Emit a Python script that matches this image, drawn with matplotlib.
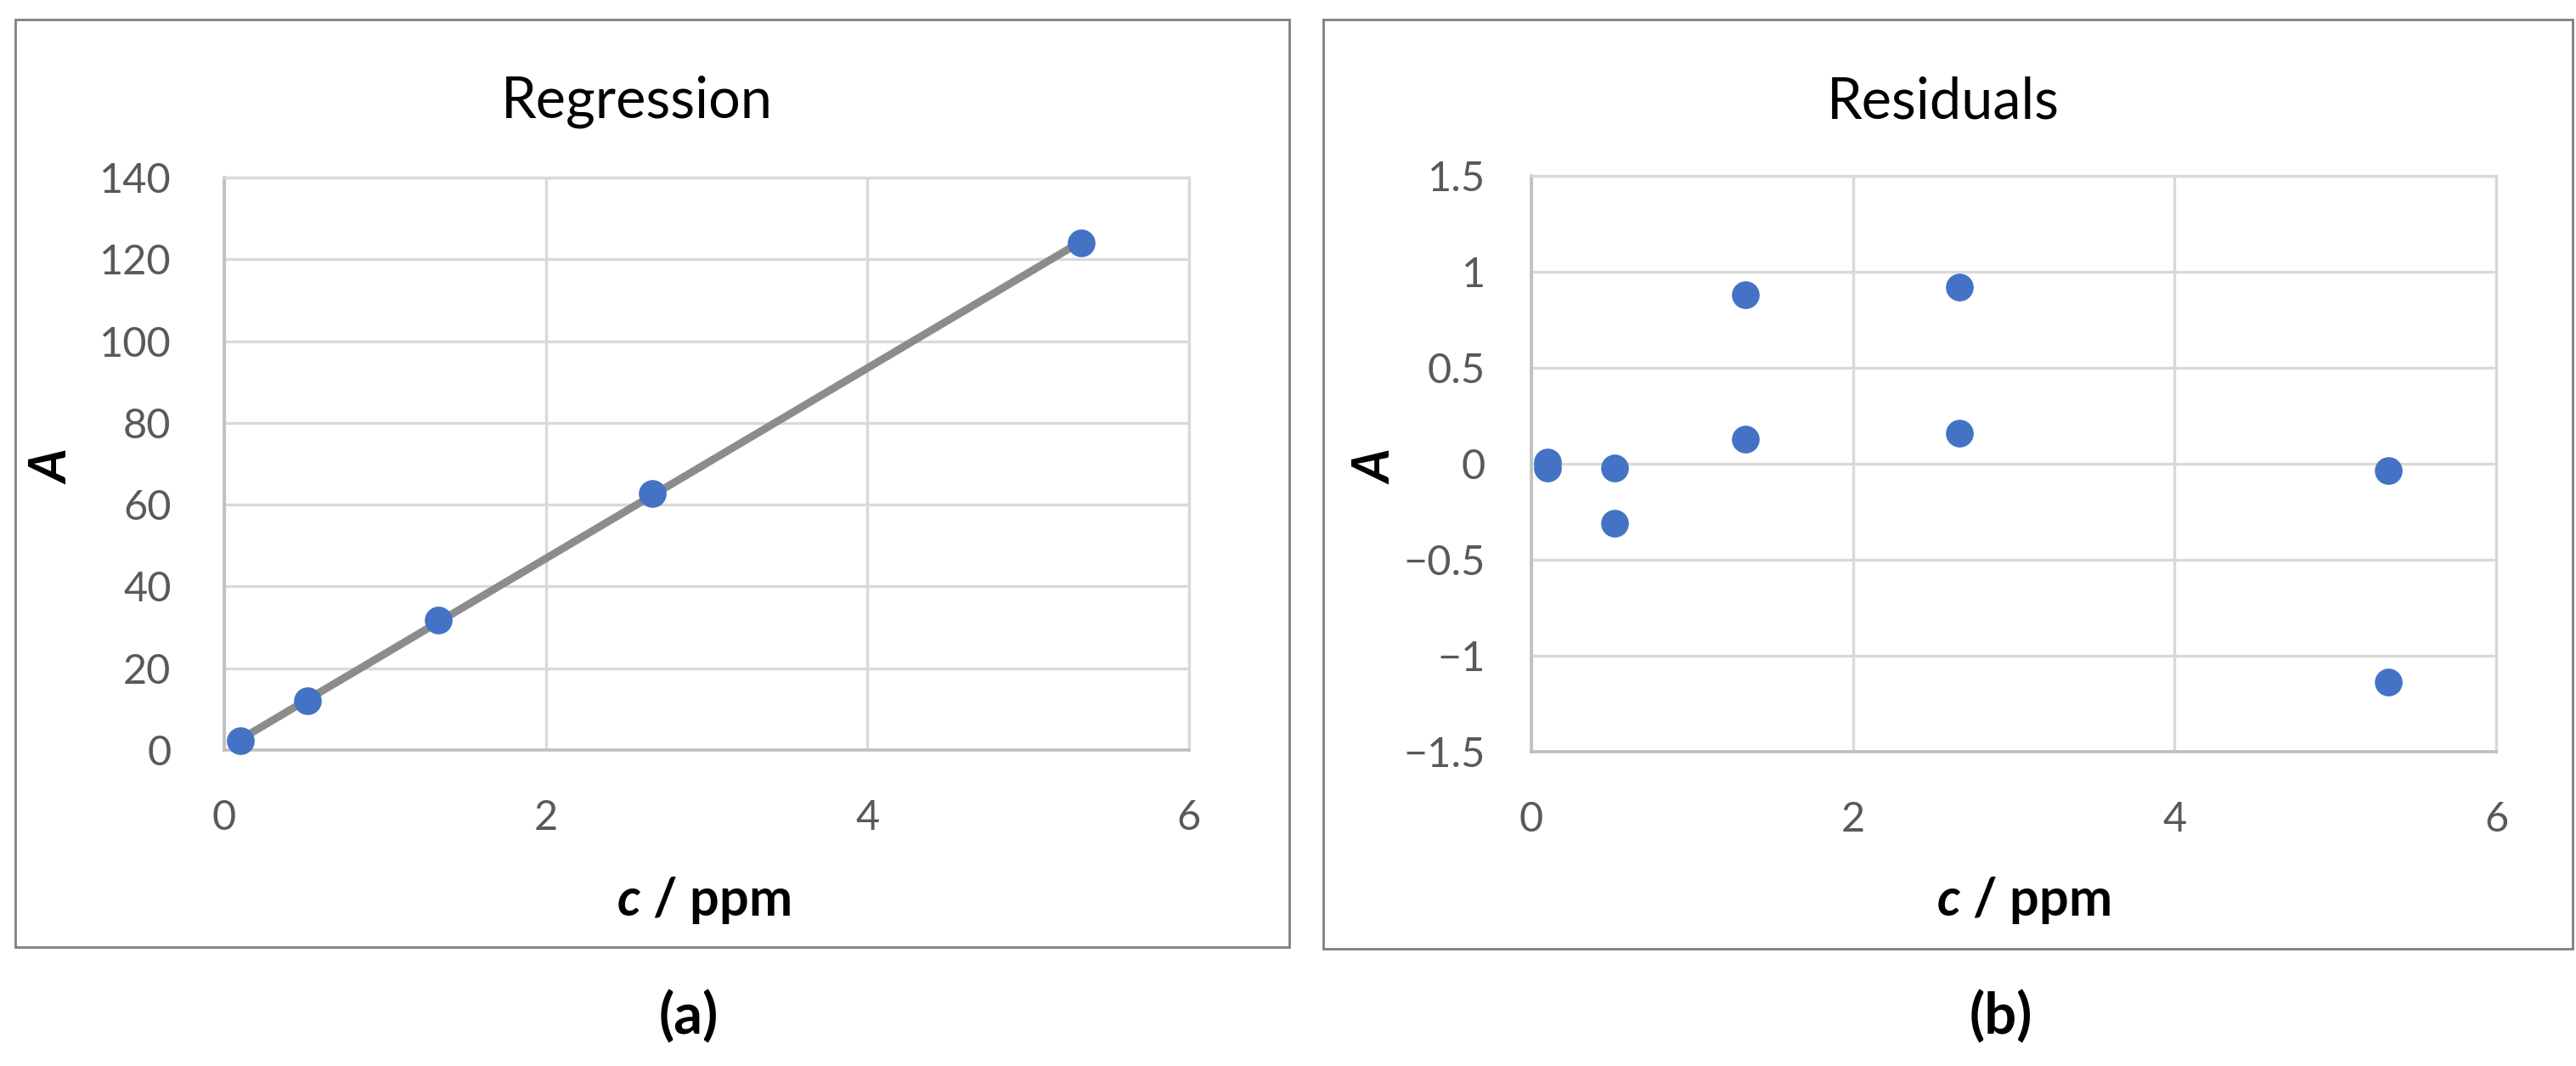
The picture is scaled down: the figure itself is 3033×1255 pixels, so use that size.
import numpy as np
import matplotlib.pyplot as plt
from matplotlib.patches import Rectangle

plt.rcParams['font.family'] = ['Lato', 'DejaVu Sans']
plt.rcParams['mathtext.fontset'] = 'custom'
plt.rcParams['mathtext.it'] = 'Lato:italic:bold'
plt.rcParams['mathtext.rm'] = 'Lato:bold'

# calibration data (c / ppm, absorbance)
conc = [0.1, 0.52, 1.33, 2.66, 5.33]
absorb = [2.3, 12.0, 31.7, 62.8, 124.0]

# residuals (two replicates per standard)
res_conc = [0.1, 0.1, 0.52, 0.52, 1.33, 1.33, 2.66, 2.66, 5.33, 5.33]
residuals = [0.01, -0.02, -0.02, -0.31, 0.88, 0.13, 0.92, 0.16, -0.035, -1.137]

x_ticks = [0, 2, 4, 6]
x_labels = ['0', '2', '4', '6']
reg_yticks = [0, 20, 40, 60, 80, 100, 120, 140]
reg_ylabels = ['0', '20', '40', '60', '80', '100', '120', '140']
res_yticks = [-1.5, -1, -0.5, 0, 0.5, 1, 1.5]
res_ylabels = ['\u22121.5', '\u22121', '\u22120.5', '0', '0.5', '1', '1.5']

W, H = 3033, 1255
BLUE = '#4472C4'
GRID = '#D9D9D9'
TICK = '#595959'


def fx(px):
    return px / W


def fy(py):
    return 1 - py / H


def style_axes(ax, yticks, ylabels, ylim, ypad):
    ax.set_xlim(0, 6)
    ax.set_ylim(*ylim)
    ax.set_xticks(x_ticks)
    ax.set_xticklabels(x_labels)
    ax.set_yticks(yticks)
    ax.set_yticklabels(ylabels)
    ax.tick_params(length=0, labelsize=35, labelcolor=TICK)
    ax.tick_params(axis='x', pad=42)
    ax.tick_params(axis='y', pad=ypad)
    ax.grid(True, color=GRID, lw=2.4)
    ax.set_axisbelow(True)
    for s in ['top', 'right']:
        ax.spines[s].set_color(GRID)
        ax.spines[s].set_linewidth(2.4)
    for s in ['left', 'bottom']:
        ax.spines[s].set_color('#BFBFBF')
        ax.spines[s].set_linewidth(2.6)


fig = plt.figure(figsize=(W / 100, H / 100), dpi=100)

# panel frames
fig.patches.append(Rectangle((fx(18), fy(1115)), fx(1518) - fx(18), fy(23) - fy(1115),
                             transform=fig.transFigure, fill=False, ec='#7F7F7F', lw=2))
fig.patches.append(Rectangle((fx(1558), fy(1117)), fx(3029) - fx(1558), fy(23) - fy(1117),
                             transform=fig.transFigure, fill=False, ec='#7F7F7F', lw=2))

# (a) regression
ax1 = fig.add_axes([fx(264), fy(883), fx(1400) - fx(264), fy(209) - fy(883)])
style_axes(ax1, reg_yticks, reg_ylabels, (0, 140), 45)
slope, icpt = np.polyfit(conc, absorb, 1)
xfit = np.array([min(conc), max(conc)])
ax1.plot(xfit, slope * xfit + icpt, color='#8C8C8C', lw=6.5, zorder=2, solid_capstyle='butt')
ax1.plot(conc, absorb, 'o', color=BLUE, ms=23.5, mew=0, zorder=3, clip_on=False)

# (b) residuals
ax2 = fig.add_axes([fx(1803), fy(885), fx(2939) - fx(1803), fy(207) - fy(885)])
style_axes(ax2, res_yticks, res_ylabels, (-1.5, 1.5), 39)
ax2.plot(res_conc, residuals, 'o', color=BLUE, ms=23.5, mew=0, zorder=3, clip_on=False)

# titles and labels
fig.text(fx(750), fy(120), 'Regression', ha='center', va='center', fontsize=48)
fig.text(fx(2288), fy(120), 'Residuals', ha='center', va='center', fontsize=48)
for xc in [829, 2383]:
    fig.text(fx(xc), fy(1060), r'$c$ / ppm', ha='center', va='center', fontsize=44,
             fontweight='bold')
for xc in [62, 1620]:
    fig.text(fx(xc), fy(550), 'A', ha='center', va='center', fontsize=44,
             fontweight='bold', fontstyle='italic', rotation=90)
fig.text(fx(811), fy(1198), '(a)', ha='center', va='center', fontsize=48, fontweight='bold')
fig.text(fx(2356), fy(1198), '(b)', ha='center', va='center', fontsize=48, fontweight='bold')

fig.savefig('out.png', dpi=100, facecolor='white')
